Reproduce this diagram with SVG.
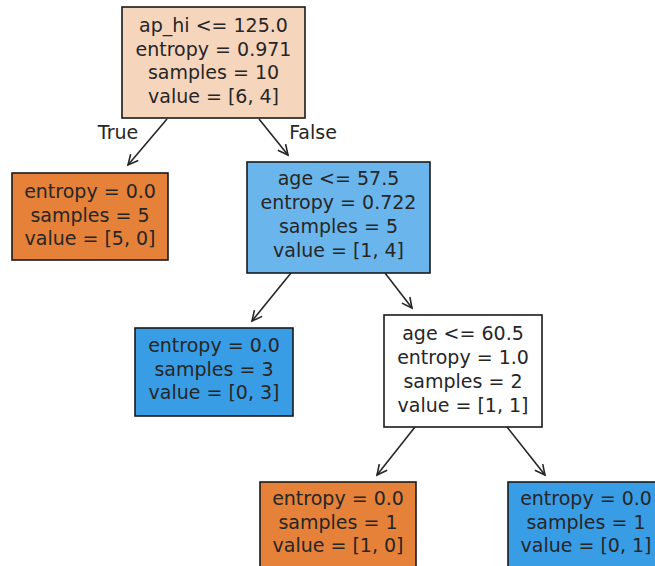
<svg xmlns="http://www.w3.org/2000/svg" width="655" height="566" viewBox="0 0 655 566">
  <defs>
    <style>
      .box { stroke: #1a1a1a; stroke-width: 1.6; }
      .t { font-family: "DejaVu Sans", sans-serif; font-size: 19px; fill: #262626; text-anchor: middle; }
      .edge { stroke: #262626; stroke-width: 1.6; fill: none; marker-end: url(#head); }
    </style>
    <marker id="head" markerUnits="userSpaceOnUse" markerWidth="14" markerHeight="14" viewBox="-12 -7 14 14" refX="0" refY="0" orient="auto">
      <path d="M-10,-5 L0,0 L-10,5" fill="none" stroke="#262626" stroke-width="1.6"/>
    </marker>
  </defs>
  <rect width="655" height="566" fill="#ffffff"/>

  <g id="connectors">
    <line class="edge" x1="167" y1="119" x2="128" y2="165"/>
    <line class="edge" x1="259" y1="119" x2="288" y2="155"/>
    <line class="edge" x1="291" y1="273" x2="252" y2="321"/>
    <line class="edge" x1="385" y1="273" x2="412" y2="308"/>
    <line class="edge" x1="415" y1="427" x2="377" y2="475"/>
    <line class="edge" x1="507" y1="427" x2="545" y2="475"/>
    <text class="t" x="118" y="139">True</text>
    <text class="t" x="313" y="139">False</text>
  </g>

  <g id="node0">
    <rect class="box" x="122" y="7" width="183" height="111" fill="#f6d5bd"/>
    <text class="t" x="213.5" y="32">ap_hi &lt;= 125.0</text>
    <text class="t" x="213.5" y="55.5">entropy = 0.971</text>
    <text class="t" x="213.5" y="79">samples = 10</text>
    <text class="t" x="213.5" y="102.5">value = [6, 4]</text>
  </g>

  <g id="node1">
    <rect class="box" x="12" y="173" width="156" height="87" fill="#e58139"/>
    <text class="t" x="90" y="198">entropy = 0.0</text>
    <text class="t" x="90" y="221.5">samples = 5</text>
    <text class="t" x="90" y="245">value = [5, 0]</text>
  </g>

  <g id="node2">
    <rect class="box" x="247" y="162" width="183" height="111" fill="#6ab6ec"/>
    <text class="t" x="338.5" y="185">age &lt;= 57.5</text>
    <text class="t" x="338.5" y="209">entropy = 0.722</text>
    <text class="t" x="338.5" y="233">samples = 5</text>
    <text class="t" x="338.5" y="257">value = [1, 4]</text>
  </g>

  <g id="node3">
    <rect class="box" x="135" y="328" width="158" height="88" fill="#399de5"/>
    <text class="t" x="214" y="352">entropy = 0.0</text>
    <text class="t" x="214" y="375.5">samples = 3</text>
    <text class="t" x="214" y="399">value = [0, 3]</text>
  </g>

  <g id="node4">
    <rect class="box" x="384" y="315" width="158" height="112" fill="#ffffff"/>
    <text class="t" x="463" y="340">age &lt;= 60.5</text>
    <text class="t" x="463" y="364">entropy = 1.0</text>
    <text class="t" x="463" y="388">samples = 2</text>
    <text class="t" x="463" y="412">value = [1, 1]</text>
  </g>

  <g id="node5">
    <rect class="box" x="260" y="482" width="156" height="100" fill="#e58139"/>
    <text class="t" x="338" y="505">entropy = 0.0</text>
    <text class="t" x="338" y="528.5">samples = 1</text>
    <text class="t" x="338" y="552">value = [1, 0]</text>
  </g>

  <g id="node6">
    <rect class="box" x="508" y="482" width="156" height="100" fill="#399de5"/>
    <text class="t" x="586" y="505">entropy = 0.0</text>
    <text class="t" x="586" y="528.5">samples = 1</text>
    <text class="t" x="586" y="552">value = [0, 1]</text>
  </g>
</svg>
